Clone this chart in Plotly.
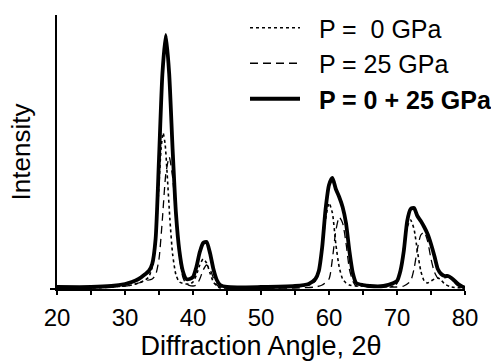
import plotly.graph_objects as go

# P = 0 GPa (dotted)
x0 = [20, 25, 28, 30, 31, 32, 33, 33.5, 34, 34.5, 35, 35.3, 35.6, 35.9, 36.2, 36.6, 37, 37.5, 38, 39, 39.5,
      40, 40.5, 41, 41.5, 42, 42.5, 43, 43.5, 44, 45, 50, 55, 57, 58, 58.5, 59, 59.5, 60, 60.5, 61, 61.5,
      62, 62.5, 63, 64, 65, 66, 68, 69.5, 70, 70.5, 71, 71.5, 72, 72.5, 73, 73.5, 74, 74.5, 75, 75.5, 76,
      76.5, 77, 78, 80]
y0 = [1, 1, 2, 3, 4, 6, 9, 12, 22, 50, 105, 140, 156, 145, 115, 70, 35, 14, 7, 5, 5,
      7, 14, 24, 30, 26, 16, 7, 3, 1, 1, 1, 2, 4, 8, 18, 42, 70, 86, 76, 45, 22,
      10, 6, 4, 3, 3, 2, 2, 3, 6, 18, 42, 62, 69, 60, 38, 18, 8, 6, 8, 10, 11,
      9, 5, 2, 1]

# P = 25 GPa (dashed)
x25 = [20, 28, 30, 31, 32, 33, 33.5, 34, 34.5, 35, 35.5, 36, 36.5, 37, 37.5, 38, 38.5, 39, 40, 40.5,
       41, 41.5, 42, 42.5, 43, 43.5, 44, 45, 50, 55, 58, 59, 60, 60.5, 61, 61.5, 62, 62.5, 63, 63.5,
       64, 65, 66, 70, 71, 72, 72.5, 73, 73.5, 74, 74.5, 75, 75.5, 76, 76.5, 77, 77.5, 78, 78.5, 79, 80]
y25 = [1, 2, 3, 4, 6, 8, 9, 10, 14, 30, 70, 115, 132, 112, 70, 32, 12, 5, 3, 4,
       10, 19, 24, 20, 11, 4, 2, 1, 1, 1, 2, 4, 10, 30, 58, 72, 66, 46, 20, 8,
       3, 3, 2, 2, 3, 8, 20, 40, 54, 57, 48, 30, 17, 11, 10, 11, 12, 10, 6, 3, 1]

# P = 0 + 25 GPa (thick solid)
xs = [20, 25, 28, 30, 31, 32, 33, 33.5, 34, 34.5, 35, 35.5, 36, 36.5, 37, 37.5, 38, 38.5, 39, 39.5,
      40, 40.5, 41, 41.5, 42, 42.5, 43, 43.5, 44, 45, 50, 55, 57, 58, 58.5, 59, 59.5, 60, 60.5, 61,
      61.5, 62, 62.5, 63, 63.5, 64, 65, 66, 68, 69.5, 70, 70.5, 71, 71.5, 72, 72.5, 73, 73.5, 74, 74.5,
      75, 75.5, 76, 76.5, 77, 77.5, 78, 78.5, 79, 80]
ys = [2, 2, 3, 5, 7, 10, 15, 18, 25, 50, 130, 215, 254, 215, 140, 75, 38, 18, 10, 10,
      12, 22, 37, 46, 47, 36, 20, 9, 4, 2, 2, 3, 5, 10, 18, 42, 80, 104, 111, 100,
      92, 82, 66, 38, 16, 6, 4, 3, 3, 6, 8, 18, 38, 68, 80, 81, 73, 68, 62, 55,
      45, 33, 20, 15, 13, 13, 11, 8, 5, 1]

FONT = "Liberation Sans, Arial, sans-serif"

fig = go.Figure()
fig.add_trace(go.Scatter(x=x0, y=y0, mode="lines", name="  P =  0 GPa", legendgroup="a",
                         line=dict(color="black", width=1.6, dash="dot", shape="spline", smoothing=0.6)))
fig.add_trace(go.Scatter(x=x25, y=y25, mode="lines", name="  P = 25 GPa", legendgroup="b",
                         line=dict(color="black", width=1.3, dash="8px,5px", shape="spline", smoothing=0.6)))
fig.add_trace(go.Scatter(x=xs, y=ys, mode="lines", name="  <b>P = 0 + 25 GPa</b>", legendgroup="c",
                         line=dict(color="black", width=3.8, shape="spline", smoothing=0.6)))

fig.update_layout(
    width=491, height=364,
    margin=dict(l=57, r=26, t=15, b=75, autoexpand=False),
    paper_bgcolor="white", plot_bgcolor="white",
    font=dict(family=FONT, color="black", size=22),
    showlegend=True,
    legend=dict(x=(245 - 57) / 408, y=1 + 10 / 274, xanchor="left", yanchor="top",
                font=dict(size=25, family=FONT), tracegroupgap=19, itemwidth=50,
                bgcolor="rgba(0,0,0,0)", traceorder="normal"),
    xaxis=dict(range=[20, 80], tickmode="linear", tick0=20, dtick=10,
               showline=True, linecolor="black", linewidth=2, ticks="outside", ticklen=4,
               tickwidth=1.5, tickcolor="black", showgrid=False, zeroline=False,
               tickfont=dict(size=24, family=FONT), ticklabelstandoff=2,
               minor=dict(tick0=20, dtick=5, ticks="outside", ticklen=4, tickwidth=1.5,
                          tickcolor="black", showgrid=False),
               title=dict(text="Diffraction Angle, 2θ", font=dict(size=27, family=FONT), standoff=6)),
    yaxis=dict(range=[0, 274], tickmode="array", tickvals=[0], showticklabels=False, showline=True,
               linecolor="black", linewidth=2, ticks="outside", ticklen=5, tickwidth=1.5, tickcolor="black",
               showgrid=False, zeroline=False,
               title=dict(text="Intensity", font=dict(size=26, family=FONT), standoff=12)),
)

fig.write_html("out.html")
